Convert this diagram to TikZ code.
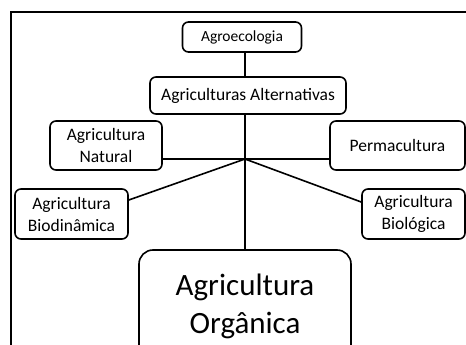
\documentclass[tikz,border=0pt]{standalone}
\usepackage{fontspec}
\setmainfont{Carlito}
\begin{document}
\begin{tikzpicture}[x=1pt,y=-1pt,
  box/.style={draw,line width=1.6pt,rounded corners=6pt,align=center,inner sep=0pt,font=\fontsize{17.5}{22}\selectfont},
  conn/.style={line width=1.6pt}]
\useasboundingbox (0,0) rectangle (466,345);
\clip (0,0) rectangle (466,345);
\draw[line width=1.8pt] (11,346) -- (11,12) -- (470,12);
\node[box,minimum width=119pt,minimum height=30pt,font=\fontsize{15.5}{19}\selectfont] (agro) at (242,37) {Agroecologia};
\node[box,minimum width=196pt,minimum height=37pt] (alt) at (248,95.5) {Agriculturas Alternativas};
\node[box,minimum width=112pt,minimum height=49pt] (nat) at (106,145.5) {Agricultura\\Natural};
\node[box,minimum width=135pt,minimum height=49pt] (perm) at (397.5,145.5) {Permacultura};
\node[box,minimum width=113pt,minimum height=50pt] (bd) at (71.5,214) {Agricultura\\Biodinâmica};
\node[box,minimum width=103pt,minimum height=50pt] (bl) at (413.5,214) {Agricultura\\Biológica};
\node[box,rounded corners=14pt,minimum width=212pt,minimum height=112pt,font=\fontsize{31}{38}\selectfont] (org) at (245,306) {Agricultura\\Orgânica};
\coordinate (hub) at (245,159);
\draw[conn] (agro.south -| hub) -- (alt.north -| hub);
\draw[conn] (alt.south -| hub) -- (org.north -| hub);
\draw[conn] (nat.east |- hub) -- (hub) -- (perm.west |- hub);
\draw[conn] ([yshift=14pt]bd.east) -- (hub) -- ([yshift=12pt]bl.west);
\end{tikzpicture}
\end{document}
